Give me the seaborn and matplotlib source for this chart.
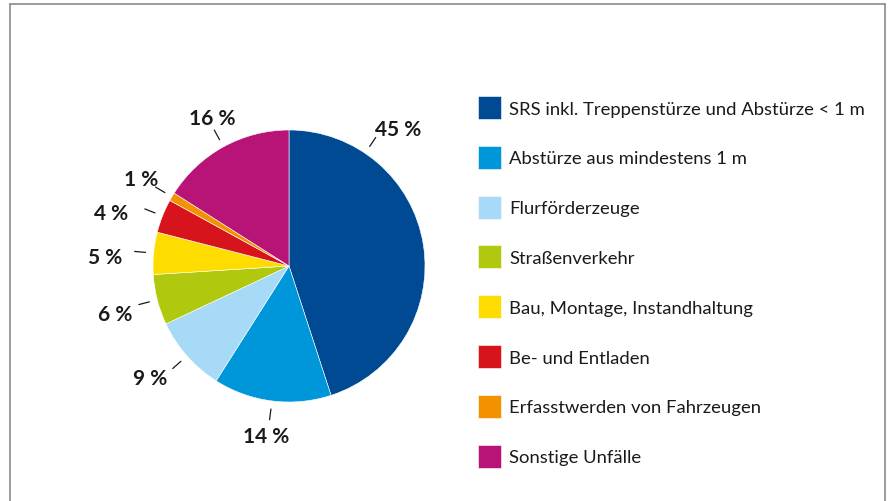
import numpy as np
import seaborn as sns
import matplotlib.pyplot as plt
from matplotlib.lines import Line2D

# Daten
categories = [
    "SRS inkl. Treppenstürze und Abstürze < 1 m",
    "Abstürze aus mindestens 1 m",
    "Flurförderzeuge",
    "Straßenverkehr",
    "Bau, Montage, Instandhaltung",
    "Be- und Entladen",
    "Erfasstwerden von Fahrzeugen",
    "Sonstige Unfälle",
]
shares = [45, 14, 9, 6, 5, 4, 1, 16]
pct_labels = ["45 %", "14 %", "9 %", "6 %", "5 %", "4 %", "1 %", "16 %"]
hex_colors = ["#004A93", "#0096DA", "#A6DAF6", "#B0C90E",
              "#FFDC00", "#D7141B", "#F39200", "#B81477"]

# Layout der Beschriftungen: Winkelversatz (Grad) und Radius je Label
label_dang = [43.0, -0.6, -3.0, 0.4, 2.0, 4.4, -0.4, -1.6]
label_rad = [1.30, 1.25, 1.30, 1.32, 1.355, 1.37, 1.27, 1.24]

sns.set_theme(style="white")
plt.rcParams['font.family'] = ['Lato', 'DejaVu Sans']
colors = sns.color_palette(hex_colors)

fig = plt.figure(figsize=(8.88, 5.02), dpi=100)
# Pie-Achse: Mittelpunkt (289, 267) px, Radius 136 px
ax = fig.add_axes([(289 - 204) / 888, (502 - 267 - 204) / 502, 408 / 888, 408 / 502])

wedges, _ = ax.pie(shares, colors=colors, startangle=90, counterclock=False,
                   wedgeprops=dict(edgecolor="white", linewidth=0.4))
ax.set_xlim(-1.5, 1.5)
ax.set_ylim(-1.5, 1.5)
ax.set_aspect("equal")
ax.axis("off")

# Beschriftungen mit Führungslinien
for i, w in enumerate(wedges):
    mid = (w.theta1 + w.theta2) / 2
    line_ang = 56 if i == 0 else mid  # 45 % sitzt oben rechts
    a = np.deg2rad(line_ang)
    ax.plot([1.06 * np.cos(a), 1.14 * np.cos(a)], [1.06 * np.sin(a), 1.14 * np.sin(a)],
            color="#1a1a1a", lw=0.9)
    t = np.deg2rad(mid + label_dang[i])
    ax.text(label_rad[i] * np.cos(t), label_rad[i] * np.sin(t), pct_labels[i],
            ha="center", va="center_baseline",
            fontsize=15, fontweight="bold", color="#1a1a1a")

leg = ax.legend(wedges, categories, loc="upper left",
                bbox_to_anchor=(478 / 888, 1 - 97 / 502), bbox_transform=fig.transFigure,
                frameon=False, fontsize=13.3, borderpad=0, borderaxespad=0,
                handlelength=1.245, handleheight=1.54, handletextpad=0.43,
                labelspacing=1.45)
for t in leg.get_texts():
    t.set_color("#1a1a1a")

# grauer Rahmen (oben, links, rechts)
frame_kw = dict(color="#8a8a8a", lw=1.2, transform=fig.transFigure)
fig.add_artist(Line2D([9.5 / 888, 9.5 / 888], [0, 1 - 5 / 502], **frame_kw))
fig.add_artist(Line2D([9.5 / 888, 884.5 / 888], [1 - 5 / 502, 1 - 5 / 502], **frame_kw))
fig.add_artist(Line2D([884.5 / 888, 884.5 / 888], [0, 1 - 5 / 502], **frame_kw))

plt.savefig("out.png", dpi=100)
